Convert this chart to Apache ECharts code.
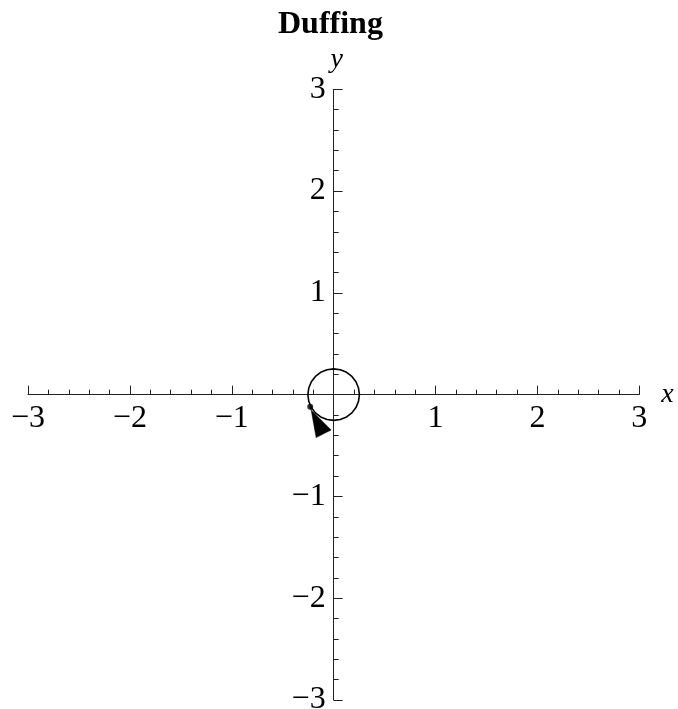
<!DOCTYPE html>
<html>
<head>
<meta charset="utf-8">
<script src="https://cdn.jsdelivr.net/npm/echarts@6/dist/echarts.min.js"></script>
<style>
  html, body { margin: 0; padding: 0; background: #fff; }
  #chart { width: 678px; height: 709px; }
</style>
</head>
<body>
<div id="chart"></div>
<script>
// Phase-plane view of the Duffing oscillator near the origin.
const titleText = 'Duffing';
const axisRange = [-3, 3];
const tickValues = [-3, -2, -1, 1, 2, 3];

// Closed orbit around the origin (x, y)
const orbitX = [0.253, 0.244, 0.219, 0.179, 0.127, 0.065, 0, -0.065, -0.127, -0.179, -0.219, -0.244,
                -0.253, -0.244, -0.219, -0.179, -0.127, -0.065, 0, 0.065, 0.127, 0.179, 0.219, 0.244, 0.253];
const orbitY = [0, 0.065, 0.127, 0.179, 0.219, 0.244, 0.253, 0.244, 0.219, 0.179, 0.127, 0.065,
                0, -0.065, -0.127, -0.179, -0.219, -0.244, -0.253, -0.244, -0.219, -0.179, -0.127, -0.065, 0];

// Current state on the orbit
const stateX = [-0.23];
const stateY = [-0.12];

// Arrowhead (tip, right corner, lower corner)
const arrowX = [-0.221, -0.025, -0.172];
const arrowY = [-0.150, -0.347, -0.422];

const serif = '"Liberation Serif", "DejaVu Serif", serif';
const ink = '#000';
const axisInk = '#222';

const fmtNum = v => String(v).replace('-', '\u2212');

const orbitData = orbitX.map((x, i) => [x, orbitY[i]]);
const stateData = stateX.map((x, i) => [x, stateY[i]]);
const stemData = [[stateX[0], stateY[0]], [arrowX[0], arrowY[0]]];
const arrowData = arrowX.map((x, i) => [x, arrowY[i]]);

// Tick labels sit next to the axes that cross at the origin
const xTickData = tickValues.map(v => [v, 0]);
const yTickData = tickValues.map(v => [0, v]);

function valueAxis(name, nameGap, namePadding) {
  return {
    type: 'value',
    min: axisRange[0],
    max: axisRange[1],
    interval: 1,
    name: name,
    nameLocation: 'end',
    nameGap: nameGap,
    nameTextStyle: {
      fontFamily: serif, fontStyle: 'italic', fontSize: 28, color: ink, padding: namePadding
    },
    axisLine: { show: true, onZero: true, lineStyle: { color: axisInk, width: 1 } },
    axisTick: { show: true, inside: true, length: 9, lineStyle: { color: axisInk, width: 1 } },
    minorTick: { show: true, splitNumber: 5, length: 5, lineStyle: { color: axisInk, width: 1 } },
    splitLine: { show: false },
    minorSplitLine: { show: false },
    axisLabel: { show: false }
  };
}

function tickLabelSeries(data, position, distance, dim, offset) {
  return {
    type: 'scatter',
    data: data,
    symbolSize: 0,
    silent: true,
    itemStyle: { color: ink, opacity: 1 },
    label: {
      show: true,
      position: position,
      distance: distance,
      offset: offset,
      formatter: p => fmtNum(p.value[dim]),
      fontFamily: serif,
      fontSize: 32,
      color: ink,
      opacity: 1,
      textBorderWidth: 0
    },
    labelLayout: { hideOverlap: false },
    z: 6
  };
}

const chart = echarts.init(document.getElementById('chart'), null, { renderer: 'canvas' });

chart.setOption({
  animation: false,
  backgroundColor: '#fff',
  title: {
    text: titleText,
    left: 278,
    top: 9,
    padding: 0,
    textStyle: { fontFamily: serif, fontWeight: 'bold', fontSize: 32, color: ink }
  },
  grid: {
    left: 28, right: 38.7, top: 89.3, bottom: 9,
    containLabel: false,
    outerBoundsMode: 'none'
  },
  xAxis: valueAxis('x', 22, 0),
  yAxis: valueAxis('y', 16, [0, 0, 0, 6]),
  series: [
    {
      type: 'line',
      data: orbitData,
      showSymbol: false,
      lineStyle: { color: ink, width: 1.6 },
      z: 3
    },
    {
      type: 'line',
      data: stemData,
      showSymbol: false,
      lineStyle: { color: ink, width: 1.4 },
      z: 3
    },
    {
      type: 'custom',
      data: [0],
      renderItem: function (params, api) {
        const pts = arrowData.map(p => api.coord(p));
        return {
          type: 'polygon',
          shape: { points: pts },
          style: { fill: ink, stroke: ink, lineWidth: 0.5 }
        };
      },
      z: 4
    },
    {
      type: 'scatter',
      data: stateData,
      symbol: 'circle',
      symbolSize: 6,
      itemStyle: { color: ink },
      z: 5
    },
    tickLabelSeries(xTickData, 'bottom', 8, 0, [0, 0]),
    tickLabelSeries(yTickData, 'left', 8, 1, [0, -2])
  ]
});
</script>
</body>
</html>
